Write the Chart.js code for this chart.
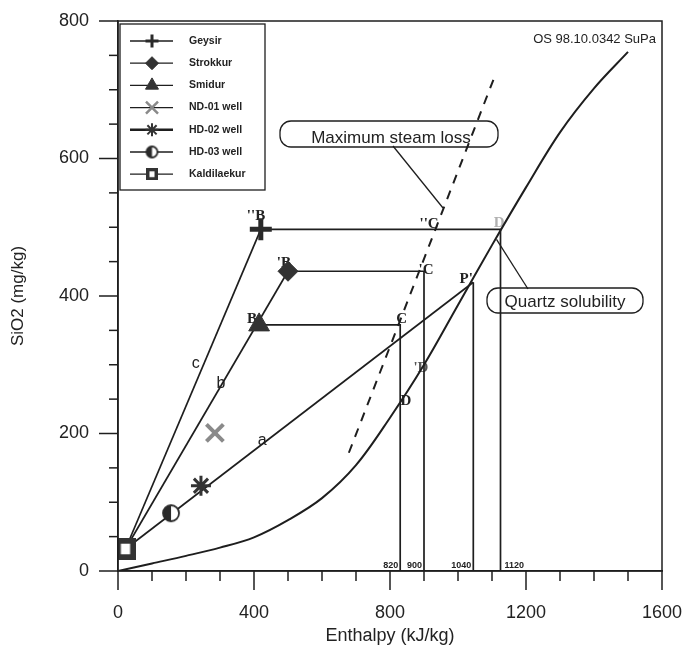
<!DOCTYPE html>
<html><head><meta charset="utf-8">
<script src="https://cdn.jsdelivr.net/npm/chart.js@4.4.1/dist/chart.umd.min.js"></script>
<style>html,body{margin:0;padding:0;background:#fff}#wrap{width:685px;height:645px;position:relative}</style>
</head><body><div id="wrap"><canvas id="c"></canvas></div>
<script>
// ---------- data ----------
const sampleNames = ['Geysir','Strokkur','Smidur','ND-01 well','HD-02 well','HD-03 well','Kaldilaekur'];
const sampleEnthalpy = [420, 500, 415, 285, 244, 156, 22];
const sampleSiO2     = [497, 436, 358, 201, 124, 84, 32];

const mixAEnthalpy = [22, 1045]; const mixASiO2 = [32, 420];
const mixBEnthalpy = [22, 500];  const mixBSiO2 = [32, 436];
const mixCEnthalpy = [22, 420];  const mixCSiO2 = [32, 497];

const geysirBoilEnthalpy   = [420, 1125, 1125]; const geysirBoilSiO2   = [497, 497, 0];
const strokkurBoilEnthalpy = [500, 900, 900];   const strokkurBoilSiO2 = [436, 436, 0];
const smidurBoilEnthalpy   = [415, 830, 830];   const smidurBoilSiO2   = [358, 358, 0];
const pointPEnthalpy = [1045, 1045];            const pointPSiO2 = [420, 0];

const quartzEnthalpy = [0, 100, 200, 300, 400, 500, 600, 700, 800, 900, 1000, 1100, 1200, 1300, 1400, 1500];
const quartzSiO2     = [0, 11, 22, 34, 49, 74, 106, 154, 223, 300, 387, 474, 558, 638, 702, 755];

const steamLossEnthalpy = [679, 1106]; const steamLossSiO2 = [172, 717];

const enthalpyMarkLabels = ['820', '900', '1040', '1120'];
const enthalpyMarkValues = [830, 900, 1045, 1125];

const pointLabels = ["''B", "'B", 'B', 'C', "'C", "''C", 'D', "P'", "'D", 'D'];
const pointLabelEnthalpy = [406, 488, 394, 834, 906, 915, 1121, 1024, 891, 847];
const pointLabelSiO2     = [516, 448, 367, 367, 438, 505, 506, 425, 295, 247];

const lineLabels = ['a', 'b', 'c'];
const lineLabelEnthalpy = [424, 303, 229];
const lineLabelSiO2     = [189, 273, 302];

// ---------- helpers ----------
const pts = (xs, ys) => xs.map((x, i) => ({x, y: ys[i]}));
const INK = '#1e1e1e';

function halfCircle(r) {
  const s = 2 * r + 4, c = document.createElement('canvas');
  c.width = s; c.height = s;
  const g = c.getContext('2d'), m = s / 2;
  g.beginPath(); g.arc(m, m, r, 0, 2 * Math.PI); g.fillStyle = '#fff'; g.fill();
  g.beginPath(); g.moveTo(m, m); g.arc(m, m, r, Math.PI / 2, Math.PI * 1.5); g.closePath();
  g.fillStyle = '#2a2a2a'; g.fill();
  g.beginPath(); g.arc(m, m, r, 0, 2 * Math.PI); g.lineWidth = 1.8; g.strokeStyle = '#2a2a2a'; g.stroke();
  return c;
}
function boxSquare(r) {
  const s = 2 * r, c = document.createElement('canvas');
  c.width = s; c.height = s;
  const g = c.getContext('2d');
  g.fillStyle = '#333'; g.fillRect(0, 0, s, s);
  g.fillStyle = '#fff';
  const iw = s * 0.42, ih = s * 0.48;
  g.fillRect((s - iw) / 2, (s - ih) / 2, iw, ih);
  return c;
}
const hd03Big = halfCircle(8), hd03Small = halfCircle(5.5);
const kalBig = boxSquare(11), kalSmall = boxSquare(6);

const sampleStyle = [
  {ps: 'cross',    r: 11, bw: 5,   col: '#2a2a2a', lr: 6.5, lbw: 3},
  {ps: 'rectRot',  r: 10, bw: 1,   col: '#333',    lr: 6.5, lbw: 1},
  {ps: 'triangle', r: 12, bw: 1,   col: '#333',    lr: 7.5, lbw: 1},
  {ps: 'crossRot', r: 12, bw: 4,   col: '#8a8a8a', lr: 8.5, lbw: 2.5},
  {ps: 'star',     r: 10, bw: 3,   col: '#333',    lr: 6.5, lbw: 2},
  {ps: hd03Big,    r: 8,  bw: 1,   col: '#333',    lr: 5,   lbw: 1, small: hd03Small},
  {ps: kalBig,     r: 11, bw: 1,   col: '#333',    lr: 5,   lbw: 1, small: kalSmall}
];

const datasets = [];
sampleNames.forEach((n, i) => {
  const st = sampleStyle[i];
  datasets.push({
    label: n, data: [{x: sampleEnthalpy[i], y: sampleSiO2[i]}], showLine: false,
    pointStyle: st.ps, pointRadius: st.r, pointBorderWidth: st.bw,
    pointBackgroundColor: st.col, pointBorderColor: st.col
  });
});
function lineDs(label, xs, ys, extra) {
  return Object.assign({label, data: pts(xs, ys), showLine: true, pointRadius: 0,
    borderColor: INK, borderWidth: 1.7, fill: false}, extra || {});
}
datasets.push(lineDs('a', mixAEnthalpy, mixASiO2));
datasets.push(lineDs('b', mixBEnthalpy, mixBSiO2));
datasets.push(lineDs('c', mixCEnthalpy, mixCSiO2));
datasets.push(lineDs('geysirBoil', geysirBoilEnthalpy, geysirBoilSiO2));
datasets.push(lineDs('strokkurBoil', strokkurBoilEnthalpy, strokkurBoilSiO2));
datasets.push(lineDs('smidurBoil', smidurBoilEnthalpy, smidurBoilSiO2));
datasets.push(lineDs('P', pointPEnthalpy, pointPSiO2));
datasets.push(lineDs('quartz', quartzEnthalpy, quartzSiO2, {tension: 0.35, borderWidth: 2}));
datasets.push(lineDs('steamLoss', steamLossEnthalpy, steamLossSiO2, {borderDash: [9, 8], borderWidth: 2}));

function drawMarker(ctx, st, x, y) {
  const opts = {pointStyle: st.small || st.ps, radius: st.lr, borderWidth: st.lbw, rotation: 0};
  ctx.save();
  ctx.fillStyle = st.col; ctx.strokeStyle = st.col; ctx.lineWidth = st.lbw;
  Chart.helpers.drawPoint(ctx, opts, x, y);
  ctx.restore();
}
function roundBox(ctx, x0, y0, x1, y1, r) {
  ctx.beginPath();
  ctx.moveTo(x0 + r, y0); ctx.lineTo(x1 - r, y0); ctx.arcTo(x1, y0, x1, y0 + r, r);
  ctx.lineTo(x1, y1 - r); ctx.arcTo(x1, y1, x1 - r, y1, r);
  ctx.lineTo(x0 + r, y1); ctx.arcTo(x0, y1, x0, y1 - r, r);
  ctx.lineTo(x0, y0 + r); ctx.arcTo(x0, y0, x0 + r, y0, r); ctx.closePath();
  ctx.stroke();
}

const decor = {
  id: 'decor',
  beforeDatasetsDraw(chart) {
    const {ctx, scales: {x, y}} = chart;
    ctx.save();
    ctx.textAlign = 'center'; ctx.textBaseline = 'middle';
    pointLabels.forEach((t, i) => {
      ctx.font = 'bold 15px "Liberation Serif"';
      ctx.fillStyle = (i === 6) ? '#b0b0b0' : (i === 8 ? '#555' : '#222');
      ctx.fillText(t, x.getPixelForValue(pointLabelEnthalpy[i]), y.getPixelForValue(pointLabelSiO2[i]));
    });
    ctx.font = '16px "Liberation Sans"'; ctx.fillStyle = '#222';
    lineLabels.forEach((t, i) => ctx.fillText(t, x.getPixelForValue(lineLabelEnthalpy[i]), y.getPixelForValue(lineLabelSiO2[i])));
    ctx.font = 'bold 9px "Liberation Sans"'; ctx.textBaseline = 'alphabetic';
    enthalpyMarkLabels.forEach((t, i) => {
      const px = x.getPixelForValue(enthalpyMarkValues[i]);
      const last = i === enthalpyMarkLabels.length - 1;
      ctx.textAlign = last ? 'left' : 'right';
      ctx.fillText(t, last ? px + 4 : px - 2, y.getPixelForValue(0) - 3);
    });
    ctx.restore();
  },
  afterDraw(chart) {
    const {ctx, chartArea: a, scales: {x, y}} = chart;
    ctx.save();
    // frame
    ctx.strokeStyle = INK; ctx.lineWidth = 1.5;
    ctx.strokeRect(a.left, a.top, a.right - a.left, a.bottom - a.top);
    // ticks
    ctx.lineWidth = 1.5;
    x.ticks.forEach(t => {
      const px = x.getPixelForValue(t.value), L = t.value % 400 === 0 ? 19 : 10;
      ctx.beginPath(); ctx.moveTo(px, a.bottom); ctx.lineTo(px, a.bottom + L); ctx.stroke();
    });
    y.ticks.forEach(t => {
      const py = y.getPixelForValue(t.value), L = t.value % 200 === 0 ? 19 : 9;
      ctx.beginPath(); ctx.moveTo(a.left, py); ctx.lineTo(a.left - L, py); ctx.stroke();
    });
    // corner note
    ctx.fillStyle = '#222'; ctx.font = '13px "Liberation Sans"';
    ctx.textAlign = 'right'; ctx.textBaseline = 'middle';
    ctx.fillText('OS 98.10.0342 SuPa', a.right - 6, a.top + 18);
    // callout boxes
    ctx.lineWidth = 1.3; ctx.strokeStyle = INK;
    roundBox(ctx, 280, 121, 498, 147, 11);
    ctx.font = '17px "Liberation Sans"'; ctx.textAlign = 'center';
    ctx.fillText('Maximum steam loss', 391, 138);
    ctx.beginPath(); ctx.moveTo(393, 146); ctx.lineTo(443, 208); ctx.stroke();
    roundBox(ctx, 487, 288, 643, 313, 11);
    ctx.fillText('Quartz solubility', 565, 302);
    ctx.beginPath();
    ctx.moveTo(x.getPixelForValue(geysirBoilEnthalpy[1]) - 4, y.getPixelForValue(geysirBoilSiO2[1]) + 10);
    ctx.lineTo(528, 289); ctx.stroke();
    // legend
    const L0 = 120, T0 = 24, L1 = 265, B0 = 190;
    ctx.fillStyle = '#fff'; ctx.fillRect(L0, T0, L1 - L0, B0 - T0);
    ctx.strokeStyle = INK; ctx.lineWidth = 1.3; ctx.strokeRect(L0, T0, L1 - L0, B0 - T0);
    sampleNames.forEach((n, i) => {
      const yy = 41 + i * 22.2;
      ctx.strokeStyle = INK; ctx.lineWidth = i === 4 ? 2.5 : 1.3;
      ctx.beginPath(); ctx.moveTo(130, yy); ctx.lineTo(173, yy); ctx.stroke();
      drawMarker(ctx, sampleStyle[i], 152, yy);
      ctx.fillStyle = '#222'; ctx.font = 'bold 10.5px "Liberation Sans"';
      ctx.textAlign = 'left'; ctx.textBaseline = 'middle';
      ctx.fillText(n, 189, yy);
    });
    ctx.restore();
  }
};

Chart.defaults.font.family = '"Liberation Sans", Arial, sans-serif';
Chart.defaults.color = '#222';

new Chart(document.getElementById('c'), {
  type: 'scatter',
  data: {datasets},
  options: {
    responsive: true, maintainAspectRatio: false, animation: false,
    layout: {padding: {top: 21, right: 23, left: 0, bottom: 0}},
    plugins: {legend: {display: false}, tooltip: {enabled: false}},
    scales: {
      x: {
        type: 'linear', min: 0, max: 1600,
        afterFit: s => { s.height = 74; s.paddingLeft = 0; s.paddingRight = 0; },
        grid: {drawOnChartArea: false, drawTicks: true, tickLength: 19, tickColor: 'rgba(0,0,0,0)'},
        border: {display: true, color: INK, width: 1.5},
        ticks: {stepSize: 100, autoSkip: false, maxRotation: 0, padding: 12,
          font: {size: 18}, color: '#222',
          callback: v => (v % 400 === 0 ? String(v) : '')},
        title: {display: true, text: 'Enthalpy (kJ/kg)', font: {size: 18, lineHeight: 1}, color: '#222',
          padding: {top: 0, bottom: 0}}
      },
      y: {
        type: 'linear', min: 0, max: 800,
        afterFit: s => { s.width = 118; s.paddingTop = 0; s.paddingBottom = 0; },
        grid: {drawOnChartArea: false, drawTicks: true, tickLength: 19, tickColor: 'rgba(0,0,0,0)'},
        border: {display: true, color: INK, width: 1.5},
        ticks: {stepSize: 50, autoSkip: false, padding: 10, font: {size: 18}, color: '#222',
          callback: v => (v % 200 === 0 ? String(v) : '')},
        title: {display: true, text: 'SiO2 (mg/kg)', font: {size: 17, lineHeight: 1.2}, color: '#222',
          padding: {top: 8, bottom: 0}}
      }
    }
  },
  plugins: [decor]
});
</script>
</body></html>
